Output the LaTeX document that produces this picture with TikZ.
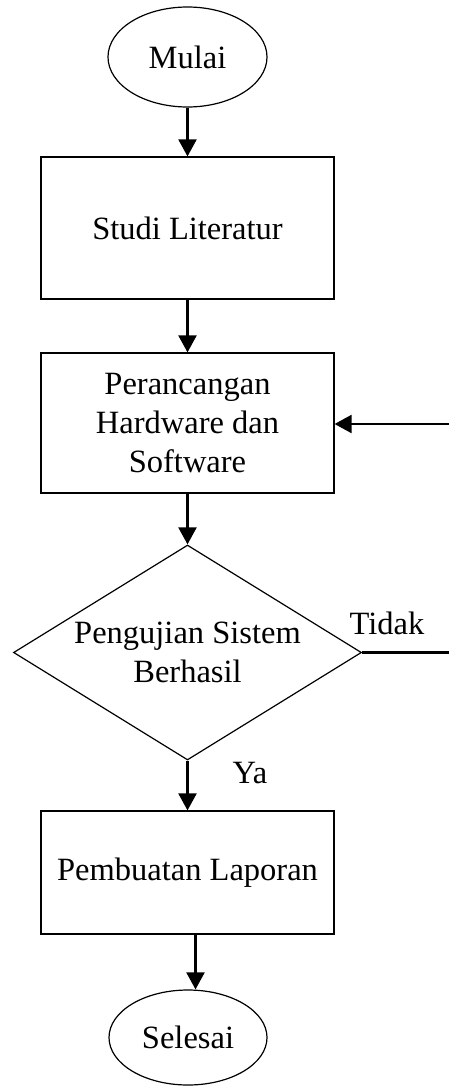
\documentclass[tikz,border=0pt]{standalone}
\usepackage{fontspec}
\setmainfont{Liberation Serif}
\usetikzlibrary{arrows.meta,shapes.geometric}
\begin{document}
\begin{tikzpicture}[x=0.5pt,y=-0.5pt,
  base/.style={draw=black, line width=0.6pt, font=\fontsize{16.25}{19.5}\selectfont, align=center, inner sep=0pt},
  term/.style={base, ellipse, minimum width=79.5pt, minimum height=50pt},
  proc/.style={base, rectangle, minimum width=146.5pt},
  dec/.style={base, diamond, aspect=1.62, minimum width=174pt, minimum height=107.5pt, inner sep=-8pt},
  arr/.style={line width=1.1pt, -{Triangle[length=8.5pt,width=9pt]}},
  lbl/.style={font=\fontsize{16.25}{19.5}\selectfont, inner sep=0pt}]
\useasboundingbox (0,0) rectangle (449,1086);
\node[term] (start) at (187.5,57) {Mulai};
\node[proc, minimum height=71pt] (stu) at (187.5,228) {Studi Literatur};
\node[proc, minimum height=70pt] (per) at (187.5,423) {Perancangan\\Hardware dan\\Software};
\node[dec] (dec) at (187.5,652.5) {Pengujian Sistem\\Berhasil};
\node[proc, minimum height=61.5pt] (lap) at (187.5,872.5) {Pembuatan Laporan};
\node[term, minimum width=79pt, minimum height=47.5pt] (end) at (188,1037.5) {Selesai};
\draw[arr] (start) -- (stu);
\draw[arr] (stu) -- (per);
\draw[arr] (per) -- (dec);
\draw[arr] (dec) -- (lap);
\draw[arr] ([xshift=4pt]lap.south) -- ([xshift=4pt]lap.south |- end.north);
\coordinate (r1) at (449,652.5);
\coordinate (r2) at (449,424);
\draw[line width=1.1pt] (dec.east) -- (r1);
\draw[arr] (r2) -- (per.east |- r2);
\node[lbl] (tidak) at (387,623) {Tidak};
\node[lbl] (ya) at (250,773) {Ya};
\end{tikzpicture}
\end{document}
